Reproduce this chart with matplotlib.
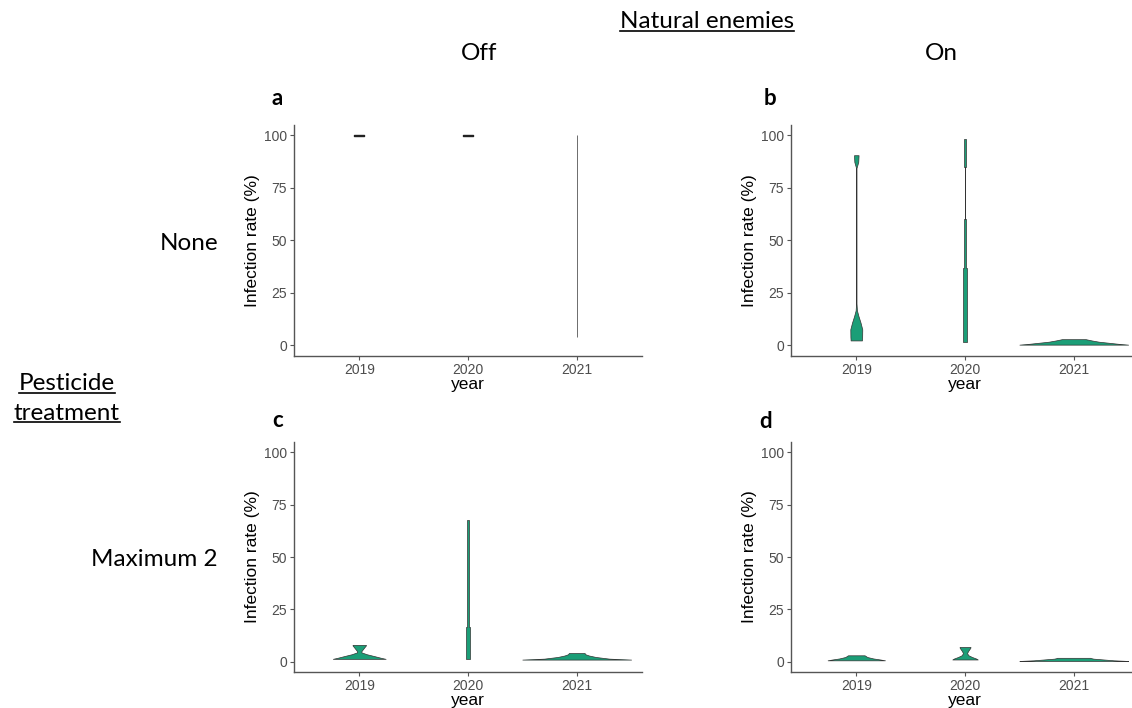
import matplotlib
matplotlib.use('Agg')
import matplotlib.pyplot as plt
from matplotlib.lines import Line2D
import numpy as np

# years on the x axis
years = ['2019', '2020', '2021']

# violin outlines: y values (%) and half widths (x units)
# panel a : natural enemies off, no pesticide
a_2019_y = [99.75, 100.25]
a_2019_w = [0.046, 0.046]
a_2020_y = [99.75, 100.25]
a_2020_w = [0.046, 0.046]
a_2021_y = [4.0, 100.0]
a_2021_w = [0.001, 0.001]

# panel b : natural enemies on, no pesticide
b_2019_y = [2.4, 4.0, 7.7, 10.9, 14.0, 16.7, 20.0, 84.5, 87.4, 90.6]
b_2019_w = [0.052, 0.054, 0.055, 0.039, 0.020, 0.006, 0.002, 0.002, 0.018, 0.021]
b_2020_y = [1.75, 17, 17, 37, 37, 57, 57, 60, 60, 85, 85, 98.4]
b_2020_w = [0.019, 0.019, 0.015, 0.015, 0.011, 0.011, 0.006, 0.006, 0.002, 0.002, 0.008, 0.008]
b_2021_y = [0.4, 0.8, 1.3, 1.8, 2.4, 2.8, 3.0]
b_2021_w = [0.5, 0.41, 0.32, 0.23, 0.165, 0.128, 0.11]

# panel c : natural enemies off, maximum 2 pesticide treatments
c_2019_y = [1.3, 1.8, 2.6, 3.5, 4.4, 5.0, 6.0, 7.0, 7.7, 8.0]
c_2019_w = [0.243, 0.2, 0.14, 0.07, 0.02, 0.02, 0.035, 0.05, 0.061, 0.061]
c_2020_y = [1.4, 16.7, 16.7, 32.9, 32.9, 67.6]
c_2020_w = [0.017, 0.017, 0.012, 0.012, 0.0075, 0.0075]
c_2021_y = [0.95, 1.4, 2.2, 2.9, 3.5, 4.1]
c_2021_w = [0.5, 0.3, 0.175, 0.113, 0.08, 0.072]

# panel d : natural enemies on, maximum 2 pesticide treatments
d_2019_y = [0.6, 1.0, 1.5, 2.2, 2.8, 3.0]
d_2019_w = [0.264, 0.22, 0.156, 0.1, 0.083, 0.076]
d_2020_y = [1.0, 1.5, 2.2, 3.0, 4.0, 5.0, 6.0, 6.6, 7.0]
d_2020_w = [0.117, 0.1, 0.064, 0.032, 0.018, 0.028, 0.041, 0.049, 0.05]
d_2021_y = [0.3, 0.6, 1.0, 1.4, 1.7, 1.8]
d_2021_w = [0.5, 0.37, 0.275, 0.18, 0.155, 0.153]

panels = {
    'a': [(a_2019_y, a_2019_w), (a_2020_y, a_2020_w), (a_2021_y, a_2021_w)],
    'b': [(b_2019_y, b_2019_w), (b_2020_y, b_2020_w), (b_2021_y, b_2021_w)],
    'c': [(c_2019_y, c_2019_w), (c_2020_y, c_2020_w), (c_2021_y, c_2021_w)],
    'd': [(d_2019_y, d_2019_w), (d_2020_y, d_2020_w), (d_2021_y, d_2021_w)],
}

FILL = '#1B9E77'
AXCOL = '#555555'
HEAD_FONT = ['Lato', 'DejaVu Sans']
AX_FONT = ['Liberation Sans', 'DejaVu Sans']

fig = plt.figure(figsize=(11.32, 7.08), dpi=100)

# axes boxes in figure fraction
boxes = {
    'a': [0.2597, 0.4972, 0.3074, 0.3263],
    'b': [0.6988, 0.4972, 0.3074, 0.3263],
    'c': [0.2597, 0.0508, 0.3074, 0.3249],
    'd': [0.6988, 0.0508, 0.3074, 0.3249],
}

for key, box in boxes.items():
    ax = fig.add_axes(box)
    x = np.arange(1, len(years) + 1)
    for xi, (vy, vw) in zip(x, panels[key]):
        vy = np.array(vy)
        vw = np.array(vw)
        # a violin squashed to a single value is drawn as a dark dash
        flat = (vy.max() - vy.min()) < 1
        ax.fill_betweenx(vy, xi - vw, xi + vw,
                         facecolor='#222222' if flat else FILL,
                         edgecolor='#222222' if flat else '#333333',
                         linewidth=1.0 if flat else 0.5)
    ax.set_xlim(0.4, 3.6)
    ax.set_ylim(-5, 105)
    ax.set_xticks(x)
    ax.set_xticklabels(years)
    ax.set_yticks([0, 25, 50, 75, 100])
    for side in ['top', 'right']:
        ax.spines[side].set_visible(False)
    for side in ['left', 'bottom']:
        ax.spines[side].set_color(AXCOL)
        ax.spines[side].set_linewidth(1.0)
    ax.tick_params(axis='both', colors=AXCOL, labelcolor='#4D4D4D',
                   labelsize=10, length=3, width=0.8, pad=2)
    for lab in ax.get_xticklabels() + ax.get_yticklabels():
        lab.set_family(AX_FONT)
    ax.set_xlabel('year', fontsize=12.5, family=AX_FONT, labelpad=0)
    ax.set_ylabel('Infection rate (%)', fontsize=12.5, family=AX_FONT, labelpad=3)

# panel letters (baseline positions in pixels)
letters = {'a': (277, 105), 'b': (770, 105), 'c': (278, 427), 'd': (766, 428)}
for k, (px, py) in letters.items():
    fig.text(px / 1132, 1 - py / 708, k, fontsize=16, fontweight='bold',
             family=HEAD_FONT, ha='center', va='baseline')

# headings
t_ne = fig.text(707 / 1132, 1 - 22 / 708, 'Natural enemies', fontsize=17.5,
                family=HEAD_FONT, ha='center', va='center')
fig.text(479 / 1132, 1 - 53 / 708, 'Off', fontsize=17.5, family=HEAD_FONT,
         ha='center', va='center')
fig.text(941 / 1132, 1 - 53 / 708, 'On', fontsize=17.5, family=HEAD_FONT,
         ha='center', va='center')
fig.text(218 / 1132, 1 - 243 / 708, 'None', fontsize=17.5, family=HEAD_FONT,
         ha='right', va='center')
fig.text(218 / 1132, 1 - 560 / 708, 'Maximum 2', fontsize=17.5, family=HEAD_FONT,
         ha='right', va='center')
t_p1 = fig.text(67 / 1132, 1 - 384 / 708, 'Pesticide', fontsize=17.5,
                family=HEAD_FONT, ha='center', va='center')
t_p2 = fig.text(67 / 1132, 1 - 413 / 708, 'treatment', fontsize=17.5,
                family=HEAD_FONT, ha='center', va='center')

# underline the grouping headings
fig.canvas.draw()
renderer = fig.canvas.get_renderer()
inv = fig.transFigure.inverted()
for t in [t_ne, t_p1, t_p2]:
    bb = t.get_window_extent(renderer).transformed(inv)
    yy = bb.y0 + 0.05 * (bb.y1 - bb.y0)
    fig.add_artist(Line2D([bb.x0, bb.x1], [yy, yy], color='black',
                          linewidth=1.2, transform=fig.transFigure))

plt.savefig('out.png', dpi=100)
